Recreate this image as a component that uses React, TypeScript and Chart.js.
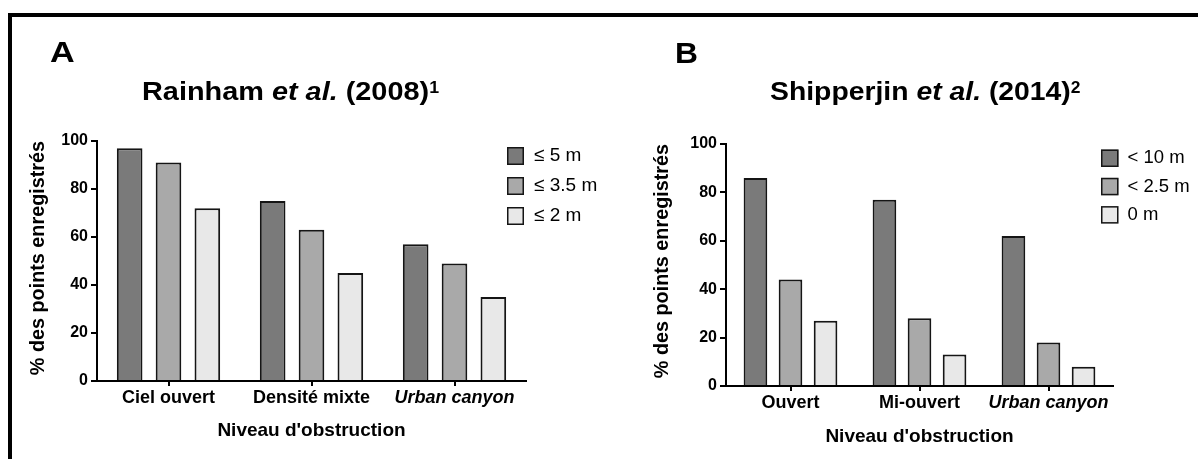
import React, { useEffect, useRef } from 'react';
import { Chart, registerables } from 'chart.js';

Chart.register(...registerables);

const FONT = "'Liberation Sans', Arial, Helvetica, sans-serif";

// ---- Panel A data (Rainham et al. 2008)
const catsA = ['Ciel ouvert', 'Densité mixte', 'Urban canyon'];
const seriesA = ['≤ 5 m', '≤ 3.5 m', '≤ 2 m'];
const a5m = [97, 75, 57];
const a35m = [91, 63, 49];
const a2m = [72, 45, 35];

// ---- Panel B data (Shipperjin et al. 2014)
const catsB = ['Ouvert', 'Mi-ouvert', 'Urban canyon'];
const seriesB = ['< 10 m', '< 2.5 m', '0 m'];
const b10m = [86, 77, 62];
const b25m = [44, 28, 18];
const b0m = [27, 13, 8];

const yMin = 0;
const yMax = 100;
const yStep = 20;
const yTitle = '% des points enregistrés';
const xTitle = "Niveau d'obstruction";
const barColors = ['#7a7a7a', '#a9a9a9', '#e8e8e8'];

const H = 459;

const boxLegend = {
  id: 'boxLegend',
  afterDraw(chart: any, _args: any, opts: any) {
    const { ctx } = chart;
    ctx.save();
    chart.data.datasets.forEach((ds: any, i: number) => {
      const y = opts.y + i * opts.pitch;
      const lw = opts.lineWidth;
      ctx.fillStyle = ds.backgroundColor;
      ctx.fillRect(opts.x, y, opts.w, opts.h);
      ctx.lineWidth = lw;
      ctx.strokeStyle = opts.stroke;
      ctx.strokeRect(opts.x + lw / 2, y + lw / 2, opts.w - lw, opts.h - lw);
      ctx.fillStyle = '#000';
      ctx.font = `${opts.fontSize}px ${FONT}`;
      ctx.textBaseline = 'middle';
      ctx.textAlign = 'left';
      ctx.fillText(ds.label, opts.textX, y + opts.h / 2);
    });
    ctx.restore();
  },
};

type Spec = {
  left: number;
  width: number;
  area: { left: number; right: number; top: number; bottom: number };
  yTitlePad: number;
  xTitlePad: number;
  catPct: number;
  barPct: number;
  legend: any;
};

function makeConfig(cats: string[], labels: string[], values: number[][], spec: Spec): any {
  return {
    type: 'bar',
    data: {
      labels: cats,
      datasets: values.map((v, i) => ({
        label: labels[i],
        data: v,
        backgroundColor: barColors[i],
        borderColor: '#151515',
        borderWidth: 2,
        borderSkipped: 'start',
        categoryPercentage: spec.catPct,
        barPercentage: spec.barPct,
      })),
    },
    options: {
      responsive: false,
      maintainAspectRatio: false,
      devicePixelRatio: 1,
      animation: false,
      events: [],
      layout: {
        padding: {
          left: 0,
          top: spec.area.top,
          right: spec.width - spec.area.right,
          bottom: 0,
        },
      },
      plugins: {
        legend: { display: false },
        tooltip: { enabled: false },
        title: { display: false },
        boxLegend: spec.legend,
      },
      scales: {
        x: {
          offset: true,
          ticks: {
            color: '#000',
            padding: 1,
            maxRotation: 0,
            autoSkip: false,
            font: (c: any) => ({
              family: FONT,
              size: 18,
              weight: 'bold',
              style: c.index === 2 ? 'italic' : 'normal',
            }),
          },
          grid: {
            display: true,
            offset: false,
            drawOnChartArea: false,
            drawTicks: true,
            tickLength: 5,
            color: '#000',
            lineWidth: 2,
          },
          border: { display: true, color: '#000', width: 2 },
          title: {
            display: true,
            text: xTitle,
            color: '#000',
            font: { family: FONT, size: 19, weight: 'bold' },
            padding: { top: 0, bottom: spec.xTitlePad },
          },
          afterFit: (s: any) => {
            s.height = H - spec.area.bottom;
          },
        },
        y: {
          min: yMin,
          max: yMax,
          ticks: {
            stepSize: yStep,
            color: '#000',
            padding: 3,
            font: { family: FONT, size: 16, weight: 'bold' },
          },
          grid: {
            display: true,
            drawOnChartArea: false,
            drawTicks: true,
            tickLength: 6,
            color: '#000',
            lineWidth: 2,
          },
          border: { display: true, color: '#000', width: 2 },
          title: {
            display: true,
            text: yTitle,
            align: 'end',
            color: '#000',
            font: { family: FONT, size: 19.8, weight: 'bold' },
            padding: { top: spec.yTitlePad, bottom: 0 },
          },
          afterFit: (s: any) => {
            s.width = spec.area.left;
          },
        },
      },
    },
    plugins: [boxLegend],
  };
}

const specA: Spec = {
  left: 0,
  width: 620,
  area: { left: 97, right: 526, top: 141, bottom: 381 },
  yTitlePad: 27.1,
  xTitlePad: 17,
  catPct: 0.815,
  barPct: 0.66,
  legend: { x: 507, y: 147, w: 17, h: 18, pitch: 30, textX: 534, fontSize: 19, lineWidth: 1.5, stroke: '#151515' },
};

const specB: Spec = {
  left: 620,
  width: 578,
  area: { left: 106, right: 493, top: 144, bottom: 386 },
  yTitlePad: 31.1,
  xTitlePad: 11,
  catPct: 0.815,
  barPct: 0.675,
  legend: { x: 481, y: 149.5, w: 17.5, h: 17.5, pitch: 28.3, textX: 507.5, fontSize: 18.5, lineWidth: 1.5, stroke: '#151515' },
};

function Panel({ spec, cats, labels, values }: { spec: Spec; cats: string[]; labels: string[]; values: number[][] }) {
  const ref = useRef<HTMLCanvasElement>(null);
  useEffect(() => {
    const chart = new Chart(ref.current as HTMLCanvasElement, makeConfig(cats, labels, values, spec));
    return () => chart.destroy();
  }, []);
  return (
    <canvas
      ref={ref}
      width={spec.width}
      height={H}
      style={{ position: 'absolute', left: spec.left, top: 0, width: spec.width, height: H }}
    />
  );
}

const textBase: React.CSSProperties = {
  position: 'absolute',
  fontFamily: FONT,
  fontWeight: 'bold',
  color: '#000',
  whiteSpace: 'nowrap',
  transformOrigin: 'left top',
};

export default function App() {
  return (
    <div
      style={{
        position: 'absolute',
        left: 0,
        top: 0,
        width: 1198,
        height: H,
        overflow: 'hidden',
        background: '#fff',
      }}
    >
      <div
        style={{
          position: 'absolute',
          left: 7.5,
          top: 12.5,
          width: 1400,
          height: 700,
          border: '4px solid #000',
          boxSizing: 'border-box',
        }}
      />
      <Panel spec={specA} cats={catsA} labels={seriesA} values={[a5m, a35m, a2m]} />
      <Panel spec={specB} cats={catsB} labels={seriesB} values={[b10m, b25m, b0m]} />

      <div style={{ ...textBase, left: 50, top: 36.6, fontSize: 30, lineHeight: '30px', transform: 'scaleX(1.14)' }}>A</div>
      <div style={{ ...textBase, left: 674.5, top: 37.6, fontSize: 30, lineHeight: '30px', transform: 'scaleX(1.06)' }}>B</div>

      <div style={{ ...textBase, left: 142, top: 78, fontSize: 26, lineHeight: '26px', transform: 'scaleX(1.11)' }}>
        Rainham <i>et al.</i> (2008)
        <span style={{ fontSize: 16, position: 'relative', top: -7, lineHeight: 0 }}>1</span>
      </div>
      <div style={{ ...textBase, left: 770, top: 78, fontSize: 26, lineHeight: '26px', transform: 'scaleX(1.09)' }}>
        Shipperjin <i>et al.</i> (2014)
        <span style={{ fontSize: 16, position: 'relative', top: -7, lineHeight: 0 }}>2</span>
      </div>
    </div>
  );
}
